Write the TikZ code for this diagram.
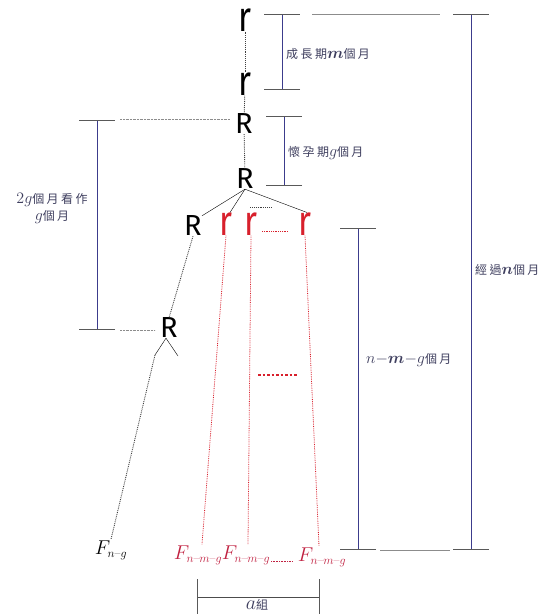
\RequirePackage{fix-cm}
\documentclass[tikz,border=0pt]{standalone}
\usepackage{amsmath}
\usepackage{graphicx}
\usepackage{fontspec}
\newfontfamily\cjk[LetterSpace=20]{Noto Sans CJK TC}
\newfontfamily\hand{Fira Sans}
\usepackage{tikz}
\usetikzlibrary{arrows.meta}
\definecolor{navy}{HTML}{3C3C8C}
\definecolor{ink}{HTML}{3E3E5E}
\definecolor{rred}{HTML}{D8202C}
\definecolor{fred}{HTML}{C02040}
\newcommand{\mth}[1]{{\fontsize{16}{16}\selectfont$#1$}}
\newcommand{\subs}[1]{\text{\fontsize{12}{12}\selectfont#1}}

\begin{document}
\begin{tikzpicture}[x=1pt,y=-1pt,
big/.style={font=\hand\fontsize{29}{29}\selectfont,inner sep=0pt},
small/.style={font=\hand\fontsize{28}{28}\selectfont,inner sep=0pt},
lab/.style={font=\cjk\fontsize{12}{17}\selectfont,text=ink,align=center,inner sep=0pt},
flab/.style={font=\fontsize{20}{20}\selectfont,text=fred,inner sep=1pt},
span/.style={draw=navy,line width=0.9pt,{Bar[width=36pt,color=black!65]}-{Bar[width=36pt,color=black!65]}},
guide/.style={draw=black!45,line width=0.4pt},
dots/.style={draw=black!75,densely dotted,line width=0.9pt},
reddots/.style={draw=rred,densely dotted,line width=0.8pt}]
\useasboundingbox (0,0) rectangle (539,614);
% main column
\node[small] (r1) at (245,20) {\scalebox{1.2}[1.5]{r}};
\node[small] (r2) at (245,84) {\scalebox{1.2}[1.5]{r}};
\node[big] (R1) at (244,124) {R};
\node[big] (R2) at (245,179) {R};
\node[big] (Rl) at (193,226) {R};
\node[small,text=rred] (ra) at (226,224) {\scalebox{1.2}[1.5]{r}};
\node[small,text=rred] (rb) at (251,224) {\scalebox{1.2}[1.5]{r}};
\node[small,text=rred] (rc) at (305,224) {\scalebox{1.2}[1.5]{r}};
\node[big] (Rd) at (169,328) {R};
% bottom labels
\node[flab,text=black] (F1) at (111,550) {$F_{\subs{$n$--$g$}}$};
\node[flab] (Fa) at (198,555) {$F_{\subs{$n$--$m$--$g$}}$};
\node[flab] (Fb) at (246,555) {$F_{\subs{$n$--$m$--$g$}}$};
\node[flab] (Fc) at (322,557) {$F_{\subs{$n$--$m$--$g$}}$};
\coordinate (vl) at (155,355);
\coordinate (vr) at (178,356);
% connectors
\draw[dots] (r1)--(r2);\draw[dots] (r2)--(R1);\draw[dots] (R1)--(R2);
\draw (R2.south)--(Rl.north east);\draw (R2.south)--([xshift=4]ra.north);\draw (R2.south)--([xshift=2]rc.north);
\draw[dots] (250,207)--(272,207);
\draw[reddots] (262,231)--(288,231);
\draw[dots] (Rl.south)--(Rd.north);
\draw (vl)--([xshift=-3]Rd.south)--(vr);
\draw[dots] (vl)--(F1.north);
\draw[reddots] (ra.south)--([xshift=4]Fa.north);
\draw[reddots] (rb.south)--([xshift=2]Fb.north);
\draw[reddots] (rc.south)--([xshift=-3]Fc.north);
\draw[rred,line width=2.5pt,dash pattern=on 2.5pt off 2pt] (258,375)--(298,375);
\draw[fred,densely dotted,line width=0.6pt] (271,561)--(293,561);
% guides and spans
\draw[guide] (312,14)--(440,14);
\draw[guide,densely dotted] (120,119)--(230,119);
\draw[guide,densely dotted] (120,330)--(155,330);
\draw[guide] (380,550)--(450,550);
\draw[span] (282,14)--(282,90);
\draw[span] (284,116)--(284,186);
\draw[span] (97,120)--(97,330);
\draw[span] (358,228)--(358,550);
\draw[span] (471,14)--(471,550);
\draw[span,draw=black!70] (197,597)--(320,597);
% texts
\node[lab,anchor=west] (tm) at (286,54) {成長期\mth{\boldsymbol{m}}個月};
\node[lab,anchor=west] (tg) at (288,153) {懷孕期\mth{g}個月};
\node[lab] (t2g) at (52,208) {\mth{2g}個月看作\\\mth{g}個月};
\node[lab,anchor=west] (tnmg) at (366,360) {\mth{n{-}\boldsymbol{m}{-}g}個月};
\node[lab,anchor=west] (tn) at (475,270) {經過\mth{\boldsymbol{n}}個月};
\node[lab] (ta) at (257,605) {{\fontsize{20}{20}\selectfont$a$}組};
\end{tikzpicture}
\end{document}
